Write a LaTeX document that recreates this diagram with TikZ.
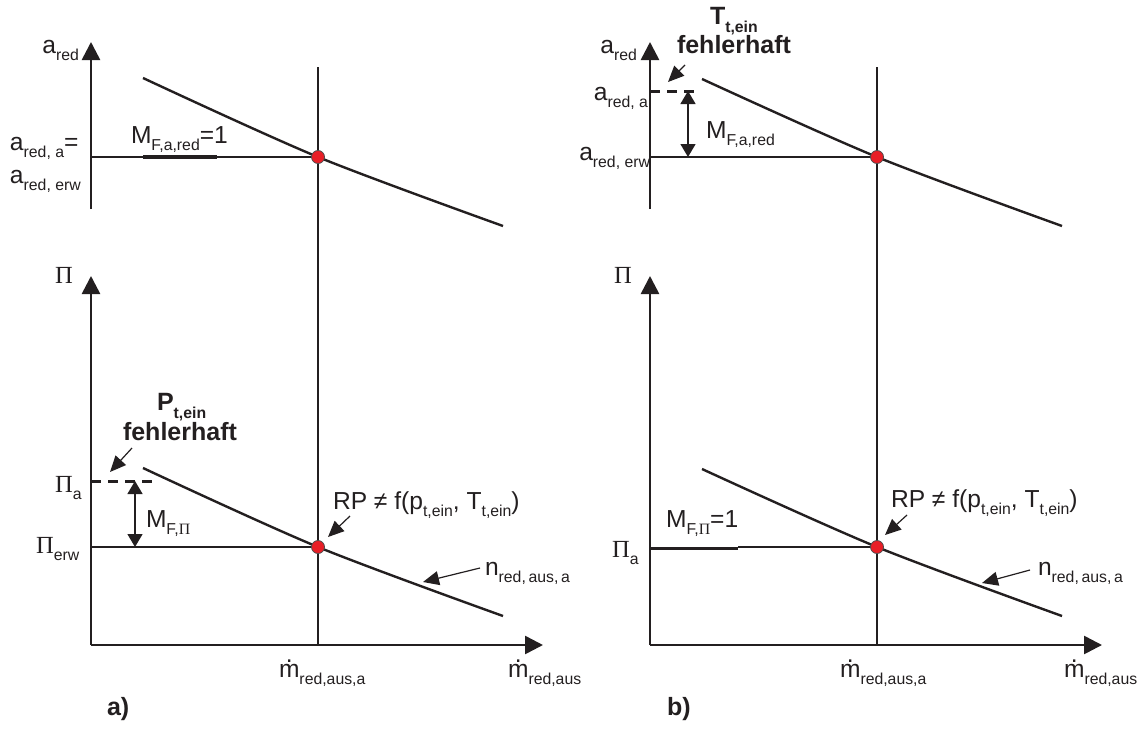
\documentclass[tikz,border=0pt]{standalone}
\usepackage{fontspec}
\setmainfont{Liberation Sans}
\newfontfamily\pifont{Liberation Serif}
\usetikzlibrary{arrows.meta}
\definecolor{ink}{RGB}{35,31,32}
\definecolor{dotred}{RGB}{232,30,38}
\newcommand{\sbs}[1]{\raisebox{-0.32em}{\fontsize{7.9}{9}\selectfont #1}}
\newcommand{\Pig}{{\pifont Π}}
\newcommand{\mdt}{\ooalign{m\cr\hidewidth\raisebox{0.6em}{.}\hidewidth\cr}}
\begin{document}
\begin{tikzpicture}[x=0.5pt,y=-0.5pt,
  every node/.style={inner sep=0pt, outer sep=0pt, text=ink, font=\fontsize{12.3}{14}\selectfont},
  lbl/.style={anchor=base west},
  lble/.style={anchor=base east},
  boldtxt/.style={font=\fontsize{12.5}{14}\selectfont\bfseries},
  axisline/.style={draw=ink, line width=1.3pt, -{Triangle[length=9pt,width=9pt]}},
  guide/.style={draw=ink, line width=1.1pt},
  thickguide/.style={draw=ink, line width=1.8pt},
  curveline/.style={draw=ink, line width=1.2pt},
  dimarrow/.style={draw=ink, line width=0.7pt, {Triangle[length=6.5pt,width=7.5pt]}-{Triangle[length=6.5pt,width=7.5pt]}},
  pointer/.style={draw=ink, line width=0.6pt, -{Triangle[length=8pt,width=7pt]}},
  dashline/.style={draw=ink, line width=1.5pt, dash pattern=on 5pt off 3.5pt},
  opdot/.style={circle, fill=dotred, draw=ink!80, line width=0.4pt, minimum size=6.5pt}
]
\useasboundingbox (0,0) rectangle (1139,728);

% ---------------- left panel coordinates ----------------
\coordinate (LaB) at (91,209);  \coordinate (LaT) at (91,42);
\coordinate (LvT) at (318,67);  \coordinate (LvB) at (318,645);
\coordinate (LcT) at (318,157); \coordinate (LcB) at (318,547);
\coordinate (LtS) at (143,78);  \coordinate (LtE) at (503,226);
\coordinate (LbS) at (143,468); \coordinate (LbE) at (503,616);
\coordinate (LhT) at (91,157);
\coordinate (LthA) at (143,157); \coordinate (LthB) at (217,157);
\coordinate (LO) at (91,645);   \coordinate (LpT) at (91,276); \coordinate (LxE) at (543,645);
\coordinate (LhB) at (91,547);
\coordinate (LdA) at (91,481);  \coordinate (LdB) at (157,481);
\coordinate (LmA) at (135,481); \coordinate (LmB) at (135,547);
\coordinate (LfA) at (132,448); \coordinate (LfB) at (110,472);
\coordinate (LrA) at (350,516); \coordinate (LrB) at (328,537);
\coordinate (LnA) at (480,568); \coordinate (LnB) at (423,582);

% ---------------- right panel coordinates ----------------
\coordinate (RaB) at (650,209);  \coordinate (RaT) at (650,42);
\coordinate (RvT) at (877,67);   \coordinate (RvB) at (877,645);
\coordinate (RcT) at (877,157);  \coordinate (RcB) at (877,547);
\coordinate (RtS) at (702,79);   \coordinate (RtE) at (1062,226);
\coordinate (RbS) at (702,469);  \coordinate (RbE) at (1062,616);
\coordinate (RhT) at (650,157);
\coordinate (RdA) at (650,91);   \coordinate (RdB) at (695,91);
\coordinate (RmA) at (688,91);   \coordinate (RmB) at (688,157);
\coordinate (RfA) at (685,65);   \coordinate (RfB) at (668,82);
\coordinate (RO) at (650,645);   \coordinate (RpT) at (650,276); \coordinate (RxE) at (1102,645);
\coordinate (RhB1) at (650,548.5); \coordinate (RhBk) at (738,548.5); \coordinate (RhBk2) at (738,547);
\coordinate (RrA) at (907,515);  \coordinate (RrB) at (885,535);
\coordinate (RnA) at (1030,570); \coordinate (RnB) at (982,583);

% ---------------- left drawing ----------------
\draw[axisline] (LaB) -- (LaT);
\draw[axisline] (LO) -- (LpT);
\draw[axisline] (LO) -- (LxE);
\draw[guide] (LvT) -- (LvB);
\draw[guide] (LhT) -- (LcT);
\draw[thickguide] (LthA) -- (LthB);
\draw[guide] (LhB) -- (LcB);
\draw[curveline] plot[smooth, tension=0.5] coordinates {(LtS) (LcT) (LtE)};
\draw[curveline] plot[smooth, tension=0.5] coordinates {(LbS) (LcB) (LbE)};
\draw[dashline] (LdA) -- (LdB);
\draw[dimarrow] (LmA) -- (LmB);
\draw[pointer] (LfA) -- (LfB);
\draw[pointer] (LrA) -- (LrB);
\draw[pointer] (LnA) -- (LnB);
\node[opdot] (LdotT) at (LcT) {};
\node[opdot] (LdotB) at (LcB) {};

\node[lble] (LaLbl) at (79,53) {a\sbs{red}};
\node[lbl] (LaaLbl) at (10,150) {a\sbs{red, a}=};
\node[lbl] (LaeLbl) at (10,183) {a\sbs{red, erw}};
\node[lbl] (LmfLbl) at (131,143) {M\sbs{F,a,red}=1};
\node[lbl] (LpiLbl) at (55,283) {\Pig};
\node[lbl] (LpiaLbl) at (55,492) {\Pig\sbs{a}};
\node[lbl] (LpieLbl) at (36,553) {\Pig\sbs{erw}};
\node[lbl] (LmpLbl) at (146,527) {M\sbs{F,\Pig}};
\node[lbl,boldtxt] (LPLbl) at (157,410) {P\sbs{t,ein}};
\node[lbl,boldtxt] (LfLbl) at (123,440) {fehlerhaft};
\node[lbl] (LrpLbl) at (333,509) {RP ≠ f(p\sbs{t,ein}, T\sbs{t,ein})};
\node[lbl] (LnLbl) at (485,575) {n\sbs{red,\,aus,\,a}};
\node[lbl] (LmaLbl) at (279,677) {\mdt\sbs{red,aus,a}};
\node[lbl] (LmLbl) at (508,677) {\mdt\sbs{red,aus}};
\node[lbl,boldtxt] (LaPanel) at (107,715) {a)};

% ---------------- right drawing ----------------
\draw[axisline] (RaB) -- (RaT);
\draw[axisline] (RO) -- (RpT);
\draw[axisline] (RO) -- (RxE);
\draw[guide] (RvT) -- (RvB);
\draw[guide] (RhT) -- (RcT);
\draw[guide] (RhB1) -- (RhBk);
\draw[guide] (RhBk2) -- (RcB);
\draw[curveline] plot[smooth, tension=0.5] coordinates {(RtS) (RcT) (RtE)};
\draw[curveline] plot[smooth, tension=0.5] coordinates {(RbS) (RcB) (RbE)};
\draw[dashline] (RdA) -- (RdB);
\draw[dimarrow] (RmA) -- (RmB);
\draw[pointer] (RfA) -- (RfB);
\draw[pointer] (RrA) -- (RrB);
\draw[pointer] (RnA) -- (RnB);
\node[opdot] (RdotT) at (RcT) {};
\node[opdot] (RdotB) at (RcB) {};

\node[lble] (RaLbl) at (637,53) {a\sbs{red}};
\node[lble] (RaaLbl) at (648,100) {a\sbs{red, a}};
\node[lble] (RaeLbl) at (650,160) {a\sbs{red, erw}};
\node[lbl] (RmfLbl) at (706,138) {M\sbs{F,a,red}};
\node[lbl,boldtxt] (RTLbl) at (710,25) {T\sbs{t,ein}};
\node[lbl,boldtxt] (RfLbl) at (677,53) {fehlerhaft};
\node[lbl] (RpiLbl) at (614,283) {\Pig};
\node[lbl] (RpiaLbl) at (612,557) {\Pig\sbs{a}};
\node[lbl] (RmpLbl) at (666,527) {M\sbs{F,\Pig}=1};
\node[lbl] (RrpLbl) at (891,507) {RP ≠ f(p\sbs{t,ein}, T\sbs{t,ein})};
\node[lbl] (RnLbl) at (1038,575) {n\sbs{red,\,aus,\,a}};
\node[lbl] (RmaLbl) at (840,677) {\mdt\sbs{red,aus,a}};
\node[lbl] (RmLbl) at (1064,677) {\mdt\sbs{red,aus}};
\node[lbl,boldtxt] (RbPanel) at (667,715) {b)};
\end{tikzpicture}
\end{document}
